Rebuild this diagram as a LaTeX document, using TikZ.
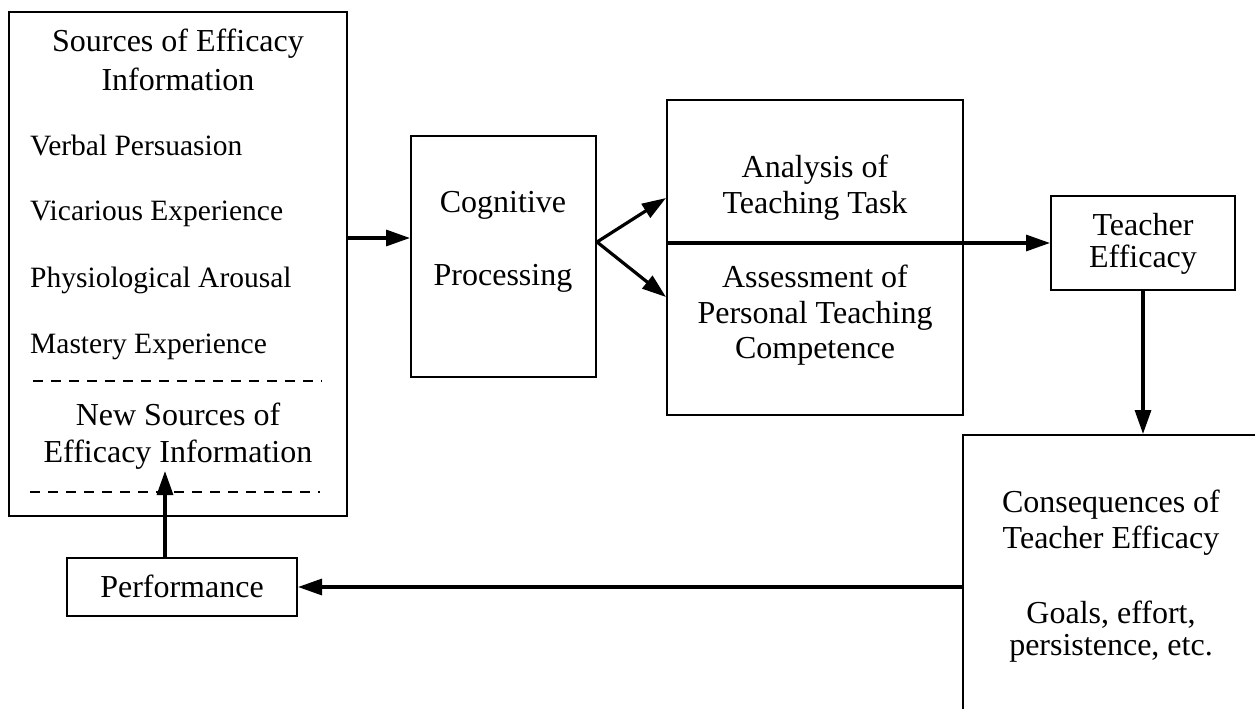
\documentclass[tikz,border=0pt]{standalone}
\usepackage{fontspec}
\setmainfont{Liberation Serif}
\usetikzlibrary{arrows.meta,calc}
\begin{document}
\begin{tikzpicture}[x=1pt,y=-1pt,
  box/.style={draw=black,line width=2pt,rectangle,inner sep=0pt},
  lbl/.style={inner sep=0pt,anchor=base,font=\fontsize{32}{38}\selectfont},
  lbll/.style={inner sep=0pt,anchor=base west,font=\fontsize{29.5}{36}\selectfont},
  arr/.style={line width=3.2pt,-{Triangle[length=24pt,width=16pt]}},
  dsh/.style={line width=1.8pt,dash pattern=on 10pt off 8pt}]
\useasboundingbox (0,0) rectangle (1255,709);
\clip (0,0) rectangle (1255,709);
% boxes
\node[box,minimum width=338pt,minimum height=504pt] (src) at (178,264) {};
\node[box,minimum width=185pt,minimum height=241pt] (cog) at (503.5,256.5) {};
\node[box,minimum width=296pt,minimum height=315pt] (ana) at (815,257.5) {};
\node[box,minimum width=184pt,minimum height=94pt] (te) at (1143,243) {};
\node[box,minimum width=330pt,minimum height=300pt] (cons) at (1128,585) {};
\node[box,minimum width=230pt,minimum height=58pt] (perf) at (182,587) {};
% texts
\node[lbl] (t1) at (178,52) {Sources of Efficacy};
\node[lbl] (t2) at (178,90) {Information};
\node[lbll] (t3) at (30,155) {Verbal Persuasion};
\node[lbll] (t4) at (30,220) {Vicarious Experience};
\node[lbll] (t5) at (30,287) {Physiological Arousal};
\node[lbll] (t6) at (30,353) {Mastery Experience};
\node[lbl] (t7) at (178,425) {New Sources of};
\node[lbl] (t8) at (178,462) {Efficacy Information};
\node[lbl] (c1) at (503,212) {Cognitive};
\node[lbl] (c2) at (503,285) {Processing};
\node[lbl] (a1) at (815,177) {Analysis of};
\node[lbl] (a2) at (815,213) {Teaching Task};
\node[lbl] (a3) at (815,287) {Assessment of};
\node[lbl] (a4) at (815,323) {Personal Teaching};
\node[lbl] (a5) at (815,358) {Competence};
\node[lbl] (e1) at (1143,235) {Teacher};
\node[lbl] (e2) at (1143,267) {Efficacy};
\node[lbl] (q1) at (1111,512) {Consequences of};
\node[lbl] (q2) at (1111,548) {Teacher Efficacy};
\node[lbl] (q3) at (1111,623) {Goals, effort,};
\node[lbl] (q4) at (1111,655) {persistence, etc.};
\node[lbl] (p1) at (182,597) {Performance};
% dashed separators
\coordinate (d1a) at (33,381); \coordinate (d1b) at (322,381);
\coordinate (d2a) at (30,492); \coordinate (d2b) at (320,492);
\draw[dsh] (d1a) -- (d1b);
\draw[dsh] (d2a) -- (d2b);
% connectors
\draw[arr] ($(src.east)+(0,-26)$) -- ($(cog.west)+(0,-18.5)$);
\coordinate (fork) at ($(cog.east)+(0,-14.5)$);
\draw[arr] (fork) -- ($(ana.west)+(0,-59.5)$);
\draw[arr] (fork) -- ($(ana.west)+(0,39.5)$);
\draw[arr] (ana.west |- te.west) -- (te.west);
\draw[arr] (te.south) -- (te.south |- cons.north);
\draw[arr] (cons.west |- perf.east) -- (perf.east);
\coordinate (nsrc) at (165,471);
\draw[arr] (perf.north -| nsrc) -- (nsrc);
\end{tikzpicture}
\end{document}
